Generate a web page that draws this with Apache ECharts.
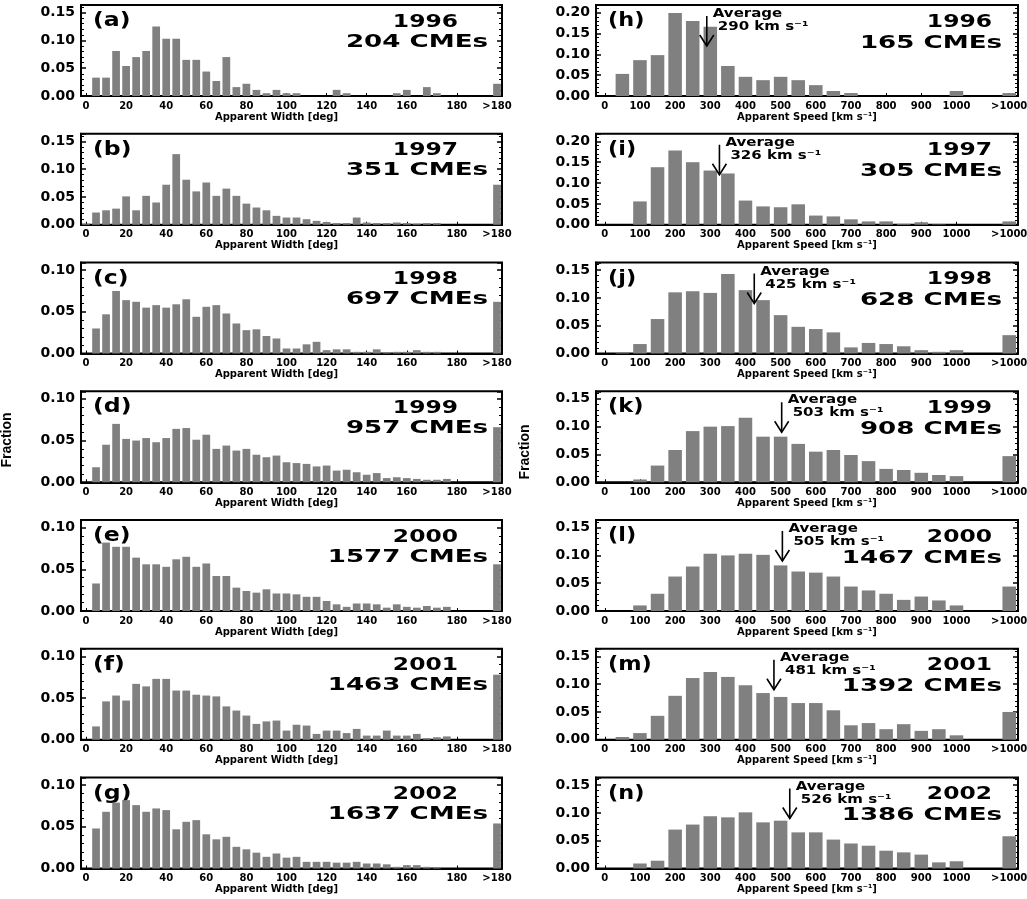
<!DOCTYPE html>
<html>
<head>
<meta charset="utf-8">
<script src="https://cdn.jsdelivr.net/npm/echarts@6/dist/echarts.min.js"></script>
<style>
html, body { margin: 0; background: #fff; }
#chart { width: 1027px; height: 899px; }
</style>
</head>
<body>
<div id="chart"></div>
<script>
// ---- data (fraction of CMEs per bin) ----
const widthBins = ['0','5','10','15','20','25','30','35','40','45','50','55','60','65','70','75','80','85','90',
  '95','100','105','110','115','120','125','130','135','140','145','150','155','160','165','170','175','180'];
const speedBins = ['0','50','100','150','200','250','300','350','400','450','500','550','600','650','700',
  '750','800','850','900','950','1000'];

const widthA = [0,.033,.033,.081,.054,.070,.081,.125,.103,.103,.065,.065,.044,.027,.070,.016,.022,.011,.005,.011,.005,.005,0,0,0,.011,.005,0,0,0,0,.005,.011,0,.016,.005,0];
const widthB = [.002,.022,.026,.029,.051,.026,.052,.040,.072,.127,.081,.060,.076,.052,.065,.052,.038,.031,.026,.016,.013,.013,.010,.007,.005,.003,.003,.013,.004,.003,.003,.004,.003,.002,.003,.003,0];
const widthC = [0,.030,.047,.075,.064,.062,.055,.058,.055,.059,.065,.044,.056,.058,.048,.036,.028,.029,.021,.018,.006,.006,.011,.014,.004,.005,.005,.002,.002,.005,.001,.002,.002,.004,.002,.002,0];
const widthD = [0,.018,.045,.070,.052,.050,.053,.048,.053,.064,.065,.051,.057,.040,.044,.038,.040,.033,.030,.032,.024,.023,.022,.019,.020,.014,.015,.012,.009,.011,.005,.006,.005,.004,.003,.003,.004];
const widthE = [0,.033,.082,.077,.077,.064,.056,.056,.053,.062,.065,.053,.057,.042,.042,.028,.024,.022,.026,.021,.021,.020,.017,.017,.012,.008,.005,.009,.009,.008,.004,.008,.005,.004,.006,.004,.005];
const widthF = [0,.016,.046,.053,.047,.067,.064,.073,.073,.059,.059,.054,.053,.052,.040,.035,.029,.019,.022,.023,.011,.018,.017,.007,.011,.011,.008,.013,.005,.005,.011,.005,.005,.007,.002,.003,.004];
const widthG = [0,.048,.068,.079,.082,.076,.068,.072,.070,.047,.056,.058,.041,.035,.038,.026,.023,.019,.014,.018,.013,.014,.008,.008,.008,.007,.007,.008,.006,.006,.005,.002,.004,.004,.002,.001,0];
const widthOver = [.022,.072,.062,.066,.056,.078,.054];   // >180 deg

const speedH = [0,.053,.086,.098,.199,.180,.166,.072,.046,.038,.046,.038,.026,.012,.007,0,0,0,0,0,.012];
const speedI = [0,0,.056,.138,.178,.150,.130,.123,.058,.044,.042,.049,.022,.020,.013,.008,.008,.002,.006,.001,0];
const speedJ = [0,.002,.017,.062,.110,.112,.109,.143,.114,.096,.069,.048,.044,.038,.011,.019,.017,.013,.006,.003,.006];
const speedK = [0,0,.005,.030,.058,.092,.100,.101,.116,.082,.082,.069,.055,.058,.049,.038,.024,.022,.017,.013,.011];
const speedL = [0,0,.010,.031,.062,.080,.103,.100,.103,.101,.082,.071,.069,.062,.044,.037,.031,.020,.026,.019,.010];
const speedM = [0,.005,.012,.043,.079,.111,.122,.113,.098,.084,.077,.066,.066,.053,.026,.030,.019,.028,.016,.019,.008];
const speedN = [0,0,.009,.014,.070,.079,.094,.092,.101,.083,.086,.065,.065,.052,.045,.041,.032,.029,.025,.011,.013];
const speedOver = [.007,.008,.033,.047,.044,.050,.058];   // >1000 km/s

const years = ['1996','1997','1998','1999','2000','2001','2002'];
const widthCounts = [204,351,697,957,1577,1463,1637];
const speedCounts = [165,305,628,908,1467,1392,1386];
const speedAvg = [290,326,425,503,505,481,526];
const widthTop = [0.15,0.15,0.10,0.10,0.10,0.10,0.10];   // highest tick label
const speedTop = [0.20,0.20,0.15,0.15,0.15,0.15,0.15];
const widthLetters = ['(a)','(b)','(c)','(d)','(e)','(f)','(g)'];
const speedLetters = ['(h)','(i)','(j)','(k)','(l)','(m)','(n)'];

const widthData = [widthA, widthB, widthC, widthD, widthE, widthF, widthG];
const speedData = [speedH, speedI, speedJ, speedK, speedL, speedM, speedN];

// ---- layout ----
const TOP0 = 5, PITCH = 128.75, H = 91;
const FONT = '"DejaVu Sans", sans-serif';

const grids = [], xAxes = [], yAxes = [], mirrorY = [], series = [], graphics = [];

function panel(col, row, cats, vals, topTick, labelIdx, xname) {
  const i = grids.length;
  const left = col === 0 ? 81 : 596;
  const width = col === 0 ? 421 : 422;
  const top = TOP0 + PITCH * row;
  grids.push({ left: left, top: top, width: width, height: H, show: true,
    borderColor: '#000', borderWidth: 2, containLabel: false, outerBoundsMode: 'none' });

  const showIdx = function (idx) { return labelIdx.indexOf(idx) >= 0; };
  xAxes.push({
    gridIndex: i, type: 'category', data: cats, boundaryGap: true,
    axisLine: { lineStyle: { color: '#000', width: 2 } },
    axisTick: { show: true, inside: true, length: 3, alignWithLabel: true, interval: showIdx,
      lineStyle: { color: '#000', width: 1 } },
    axisLabel: { interval: showIdx, margin: 5, color: '#000', fontFamily: FONT, fontWeight: 'bold', fontSize: 10,
      formatter: function (v, idx) { return (col === 0 && idx === 37) ? '180' : v; } },
    splitLine: { show: false },
    name: xname, nameLocation: 'middle', nameGap: 16,
    nameTextStyle: { color: '#000', fontFamily: FONT, fontWeight: 'bold', fontSize: 10,
      verticalAlign: 'top', padding: col === 0 ? [0, 30, 0, 0] : 0 }
  });

  const yBase = {
    gridIndex: i, type: 'value', min: 0, max: topTick * 91 / 83.4, interval: 0.05,
    splitLine: { show: false }, minorSplitLine: { show: false },
    axisTick: { show: true, inside: true, length: 5, lineStyle: { color: '#000', width: 1.5 } },
    minorTick: { show: true, splitNumber: 5, length: 3, lineStyle: { color: '#000', width: 1 } }
  };
  yAxes.push(Object.assign({}, yBase, {
    position: 'left',
    axisLine: { show: true, lineStyle: { color: '#000', width: 2 } },
    axisLabel: { show: true, showMaxLabel: false, margin: 6, color: '#000', fontFamily: FONT,
      fontWeight: 'bold', fontSize: 14, padding: [0, 0, 9, 0],
      formatter: function (v) { return v.toFixed(2); } }
  }));
  mirrorY.push(Object.assign({}, yBase, {
    position: 'right', axisLine: { show: false }, axisLabel: { show: false }
  }));

  series.push({
    type: 'bar', xAxisIndex: i, yAxisIndex: i, data: vals, barWidth: '77%',
    itemStyle: { color: '#808080' }, silent: true
  });
  return { i: i, left: left, top: top, width: width };
}

function txt(x, y, text, size, align, sx) {
  graphics.push({ type: 'text', x: x, y: y, scaleX: sx, silent: true,
    style: { text: text, fill: '#000', font: 'bold ' + size + 'px ' + FONT,
      textAlign: align, textVerticalAlign: 'middle', align: align, verticalAlign: 'middle' } });
}

const widthLabelIdx = [0, 4, 8, 12, 16, 20, 24, 28, 32, 37, 41];
const speedLabelIdx = [0, 2, 4, 6, 8, 10, 12, 14, 16, 18, 20, 23];
const widthCats = widthBins.concat(['g1', 'g2', 'g3', 'g4', '>180']);
const speedCats = speedBins.concat(['g1', 'g2', '>1000']);

for (let r = 0; r < 7; r++) {
  const p = panel(0, r, widthCats, widthData[r].concat([null, null, null, null, widthOver[r]]),
    widthTop[r], widthLabelIdx, 'Apparent Width [deg]');
  txt(p.left + 12, p.top + 16, widthLetters[r], 20, 'left', 1.18);
  txt(p.left + p.width - 44, p.top + 17, years[r], 18, 'right', 1.3);
  txt(p.left + p.width - 14, p.top + 37, widthCounts[r] + ' CMEs', 18, 'right', 1.45);
}
for (let r = 0; r < 7; r++) {
  const p = panel(1, r, speedCats, speedData[r].concat([null, null, speedOver[r]]),
    speedTop[r], speedLabelIdx, 'Apparent Speed [km s⁻¹]');
  txt(p.left + 12, p.top + 16, speedLetters[r], 20, 'left', 1.12);
  txt(p.left + p.width - 26, p.top + 17, years[r], 18, 'right', 1.3);
  txt(p.left + p.width - 16, p.top + 38, speedCounts[r] + ' CMEs', 18, 'right', 1.45);

  // average-speed arrow, placed through the axis scale
  series.push({
    type: 'custom', xAxisIndex: p.i, yAxisIndex: p.i, data: [[0, 0, speedAvg[r]]], z: 10, silent: true, clip: false,
    renderItem: function (params, api) {
      const v = api.value(2) / 50;
      const k = Math.floor(v);
      const p0 = api.coord([k, 0]), p1 = api.coord([k + 1, 0]);
      const x = p0[0] + (p1[0] - p0[0]) * (v - k);
      const cs = params.coordSys;
      const y1 = cs.y + 11, y2 = cs.y + 41;
      const font = 'bold 12px ' + FONT;
      return { type: 'group', children: [
        { type: 'line', shape: { x1: x, y1: y1, x2: x, y2: y2 }, style: { stroke: '#000', lineWidth: 1.6 } },
        { type: 'polyline', shape: { points: [[x - 7, y2 - 11], [x, y2], [x + 7, y2 - 11]] },
          style: { stroke: '#000', lineWidth: 1.6, fill: 'none' } },
        { type: 'text', x: x + 6, y: cs.y + 9, scaleX: 1.25,
          style: { text: 'Average', font: font, fill: '#000', textAlign: 'left', textVerticalAlign: 'middle' } },
        { type: 'text', x: x + 11, y: cs.y + 22, scaleX: 1.25,
          style: { text: api.value(2) + ' km s⁻¹', font: font, fill: '#000', textAlign: 'left', textVerticalAlign: 'middle' } }
      ] };
    }
  });
}

// "Fraction" axis titles
graphics.push({ type: 'text', x: 7, y: 440, rotation: Math.PI / 2, silent: true,
  style: { text: 'Fraction', fill: '#000', font: 'bold 14px "Liberation Sans", sans-serif',
    textAlign: 'center', textVerticalAlign: 'middle', align: 'center', verticalAlign: 'middle' } });
graphics.push({ type: 'text', x: 525, y: 452, rotation: Math.PI / 2, silent: true,
  style: { text: 'Fraction', fill: '#000', font: 'bold 14px "Liberation Sans", sans-serif',
    textAlign: 'center', textVerticalAlign: 'middle', align: 'center', verticalAlign: 'middle' } });

const chart = echarts.init(document.getElementById('chart'));
chart.setOption({
  backgroundColor: '#fff',
  animation: false,
  grid: grids,
  xAxis: xAxes,
  yAxis: yAxes.concat(mirrorY),
  series: series,
  graphic: graphics
});
</script>
</body>
</html>
